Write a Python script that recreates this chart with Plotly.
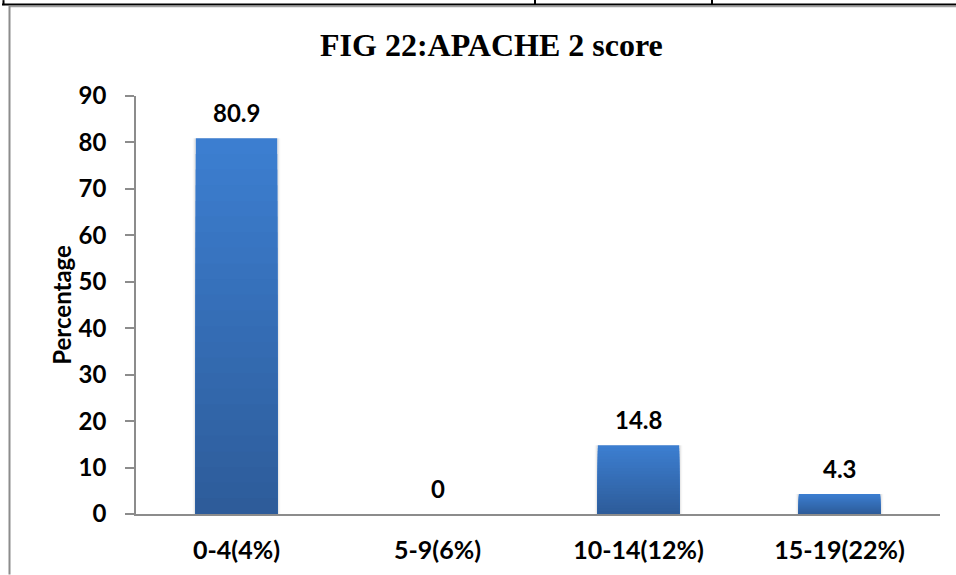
import plotly.graph_objects as go

# APACHE II score groups (predicted mortality in brackets) and share of patients
categories = ["0-4(4%)", "5-9(6%)", "10-14(12%)", "15-19(22%)"]
percentages = [80.9, 0, 14.8, 4.3]
y_ticks = [0, 10, 20, 30, 40, 50, 60, 70, 80, 90]

W, H = 956, 575
L, R, T, B = 136, 16, 96, 60.5
PW, PH = W - L - R, H - T - B


def px_x(px):
    return (px - L) / PW


def px_y(py):
    return (H - B - py) / PH


TOP_COLOR = (60, 126, 208)
BOTTOM_COLOR = (45, 91, 152)
STEPS = 24

fig = go.Figure()

# soft shadow around each bar
for wdt, alpha in [(0.435, 0.035), (0.423, 0.05)]:
    fig.add_trace(go.Bar(
        x=categories, y=percentages, width=wdt,
        marker=dict(color=f"rgba(0,0,0,{alpha})", line=dict(width=0)),
        hoverinfo="skip", showlegend=False,
    ))

# vertical blue gradient: full bar in the light colour, then shorter and darker
# overlays towards the baseline
for k in range(STEPS, 0, -1):
    frac = k / STEPS
    t = 1 - frac
    c = tuple(round(TOP_COLOR[i] + (BOTTOM_COLOR[i] - TOP_COLOR[i]) * t) for i in range(3))
    fig.add_trace(go.Bar(
        x=categories,
        y=[v * frac for v in percentages],
        width=0.405,
        marker=dict(color=f"rgb{c}", line=dict(width=0)),
        hoverinfo="skip",
        showlegend=False,
    ))

lab_font = dict(family="Lato", size=24, color="#000000", weight="bold")
cat_font = dict(family="Lato", size=25, color="#000000", weight="bold")

for cat, v in zip(categories, percentages):
    fig.add_annotation(
        x=cat, y=v, xref="x", yref="y",
        text=f"{v:g}", showarrow=False,
        yanchor="middle", yshift=26,
        font=lab_font,
    )

fig.add_annotation(
    x=px_x(62), y=px_y(305), xref="paper", yref="paper",
    text="Percentage", textangle=-90, showarrow=False,
    xanchor="center", yanchor="middle",
    font=dict(family="Lato", size=24, color="#000000", weight="bold"),
)

fig.add_annotation(
    x=px_x(491), y=px_y(45), xref="paper", yref="paper",
    text="FIG 22:APACHE 2 score", showarrow=False,
    xanchor="center", yanchor="middle",
    font=dict(family="Liberation Serif", size=32, color="#000000", weight="bold"),
)

# page/table rules around the figure
frame = [
    (px_x(2), px_y(4.5), px_x(W), px_y(4.5), "#000000", 2),
    (px_x(3.5), px_y(0), px_x(3.5), px_y(5), "#000000", 2),
    (px_x(535), px_y(0), px_x(535), px_y(4.5), "#000000", 2),
    (px_x(712), px_y(0), px_x(712), px_y(4.5), "#000000", 2),
    (px_x(9), px_y(6.5), px_x(W), px_y(6.5), "#a0a0a0", 1.5),
    (px_x(9.5), px_y(6), px_x(9.5), px_y(H), "#8c8c8c", 2),
]
for x0, y0, x1, y1, col, w in frame:
    fig.add_shape(type="line", xref="paper", yref="paper",
                  x0=x0, y0=y0, x1=x1, y1=y1,
                  line=dict(color=col, width=w))

fig.update_layout(
    width=W, height=H,
    margin=dict(l=L, r=R, t=T, b=B, pad=0),
    paper_bgcolor="white", plot_bgcolor="white",
    barmode="overlay",
    showlegend=False,
    xaxis=dict(
        type="category", automargin=False,
        showline=True, linecolor="#8c8c8c", linewidth=1.5,
        ticks="", showgrid=False, zeroline=False,
        tickfont=cat_font, ticklabelstandoff=13,
    ),
    yaxis=dict(
        range=[0, 90], tickvals=y_ticks, automargin=False,
        showline=True, linecolor="#8c8c8c", linewidth=1.5,
        ticks="outside", ticklen=9, tickcolor="#8c8c8c", tickwidth=1.5,
        showgrid=False, zeroline=False,
        tickfont=lab_font, ticklabelstandoff=14,
    ),
)

fig.write_html("out.html")
